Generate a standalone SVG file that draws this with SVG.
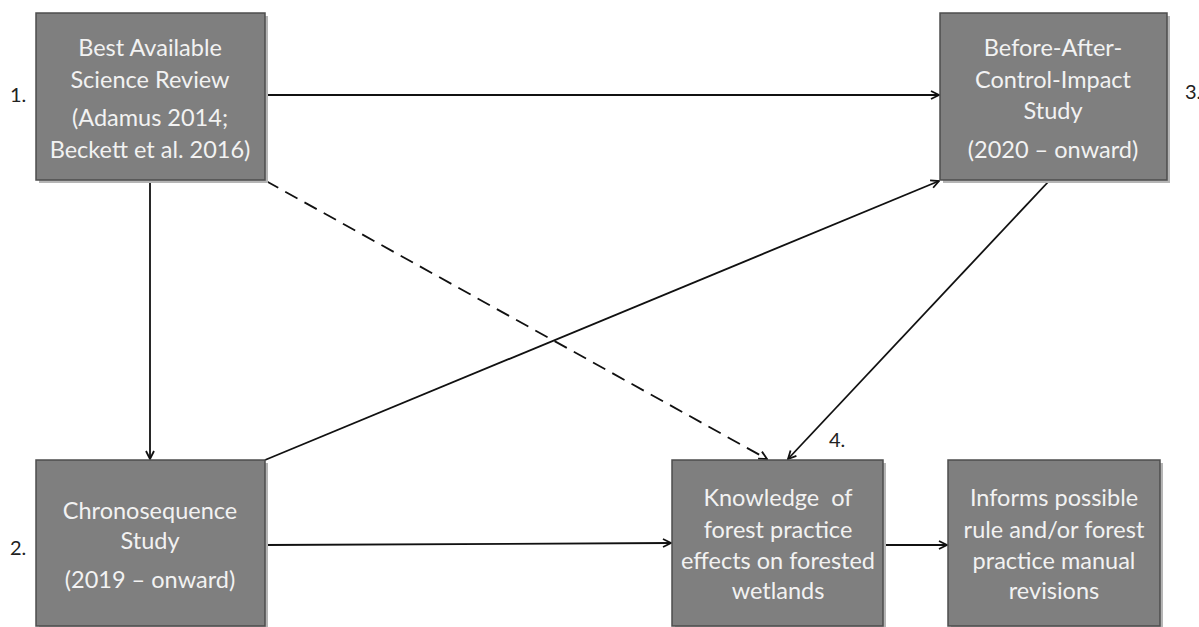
<svg xmlns="http://www.w3.org/2000/svg" width="1199" height="627" viewBox="0 0 1199 627">
<defs>
<style>
.box{fill:#7f7f7f;stroke:#4d4d4d;stroke-width:1.5}
.sh{fill:#b5b5b5}
.t{font-family:Lato,"Open Sans",sans-serif;font-size:23.5px;fill:#f2f2f2;text-anchor:middle}
.n{font-family:Lato,"Open Sans",sans-serif;font-size:20px;fill:#222}
.c{stroke:#111;stroke-width:1.8;fill:none;marker-end:url(#ah)}
.d{stroke-dasharray:14 8}
</style>
<marker id="ah" viewBox="0 0 10 10" refX="9" refY="5" markerWidth="10" markerHeight="10" markerUnits="userSpaceOnUse" orient="auto">
<path d="M1,1 L9,5 L1,9" fill="none" stroke="#111" stroke-width="1.8"/>
</marker>
</defs>
<rect width="1199" height="627" fill="#fff"/>
<g id="connectors">
<line class="c" x1="265" y1="95" x2="939" y2="95"/>
<line class="c" x1="150" y1="181" x2="150" y2="459"/>
<line class="c d" x1="266" y1="181" x2="767" y2="459"/>
<line class="c" x1="265" y1="460" x2="939" y2="181"/>
<line class="c" x1="1049" y1="181" x2="788" y2="459"/>
<line class="c" x1="266" y1="545" x2="671" y2="543"/>
<line class="c" x1="884" y1="545" x2="947" y2="545"/>
</g>
<g id="node1">
<rect class="sh" x="39" y="16" width="229" height="167"/>
<rect class="box" x="36" y="13" width="229" height="167"/>
<text class="t" x="150" y="56">Best Available</text>
<text class="t" x="150" y="88">Science Review</text>
<text class="t" x="150" y="126">(Adamus 2014;</text>
<text class="t" x="150" y="158">Beckett et al. 2016)</text>
<text class="n" x="10" y="102">1.</text>
</g>
<g id="node3">
<rect class="sh" x="943" y="16" width="227" height="167"/>
<rect class="box" x="940" y="13" width="227" height="167"/>
<text class="t" x="1053" y="56">Before-After-</text>
<text class="t" x="1053" y="88">Control-Impact</text>
<text class="t" x="1053" y="119">Study</text>
<text class="t" x="1053" y="158">(2020 – onward)</text>
<text class="n" x="1185" y="99">3.</text>
</g>
<g id="node2">
<rect class="sh" x="39" y="463" width="229" height="166"/>
<rect class="box" x="36" y="460" width="229" height="166"/>
<text class="t" x="150" y="519">Chronosequence</text>
<text class="t" x="150" y="549">Study</text>
<text class="t" x="150" y="588">(2019 – onward)</text>
<text class="n" x="10" y="555">2.</text>
</g>
<g id="node4">
<rect class="sh" x="675" y="463" width="211" height="166"/>
<rect class="box" x="672" y="460" width="211" height="166"/>
<text class="t" x="778" y="506" xml:space="preserve">Knowledge  of</text>
<text class="t" x="778" y="538">forest practice</text>
<text class="t" x="778" y="569">effects on forested</text>
<text class="t" x="778" y="599">wetlands</text>
<text class="n" x="829" y="447">4.</text>
</g>
<g id="node5">
<rect class="sh" x="951" y="463" width="212" height="166"/>
<rect class="box" x="948" y="460" width="212" height="166"/>
<text class="t" x="1054" y="506">Informs possible</text>
<text class="t" x="1054" y="538">rule and/or forest</text>
<text class="t" x="1054" y="569">practice manual</text>
<text class="t" x="1054" y="599">revisions</text>
</g>
</svg>
